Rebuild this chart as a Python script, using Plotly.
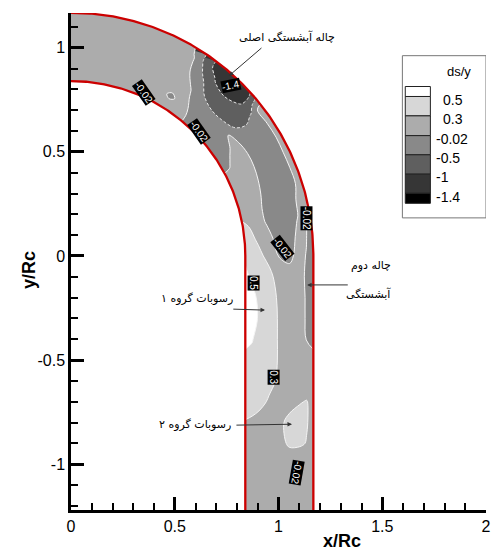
import numpy as np
import plotly.graph_objects as go

# ---- channel geometry (lengths scaled by Rc) ----
R_IN = 0.840
R_OUT = 1.168
Y_END = -1.3

# ---- stations: bend angles (deg), straight-reach y/Rc, and relative position across ----
bend_angle = [90, 80, 70, 62, 58, 54, 50, 46, 42, 38, 34, 30, 26, 22, 18, 14, 10, 5, 0]
straight_y = [-0.1, -0.2, -0.3, -0.4, -0.5, -0.6, -0.7, -0.8, -0.9, -1.0, -1.1, -1.2, -1.3]
n_frac = [0.0, 0.1, 0.2, 0.35, 0.5, 0.65, 0.8, 0.9, 1.0]   # inner bank -> outer bank

# ---- bed change ds/y at the stations ----
dsy_bend = [
    [0.12, 0.10, 0.10, 0.09, 0.10, 0.11, 0.10, 0.10, 0.12],
    [0.11, 0.10, 0.09, 0.10, 0.10, 0.10, 0.11, 0.10, 0.10],
    [0.10, 0.09, 0.10, 0.10, 0.09, 0.10, 0.10, 0.11, 0.10],
    [0.09, 0.10, 0.08, 0.10, 0.10, 0.09, 0.08, 0.07, 0.05],
    [0.08, 0.05, -0.10, 0.07, 0.06, 0.05, 0.00, -0.04, -0.06],
    [0.08, 0.08, 0.07, 0.02, -0.06, -0.35, -0.65, -0.90, -0.94],
    [-0.04, -0.05, -0.10, -0.28, -0.52, -0.80, -1.10, -1.25, -1.20],
    [-0.18, -0.20, -0.25, -0.42, -0.62, -0.92, -1.22, -1.38, -1.30],
    [-0.18, -0.20, -0.24, -0.42, -0.60, -0.80, -1.05, -1.10, -0.98],
    [-0.20, -0.22, -0.20, -0.04, -0.52, -0.60, -0.48, -0.05, 0.10],
    [-0.12, -0.15, -0.10, 0.06, -0.20, -0.30, -0.25, -0.05, 0.10],
    [-0.07, -0.08, 0.05, 0.10, -0.15, -0.30, -0.25, -0.06, 0.10],
    [0.02, 0.08, 0.10, 0.08, -0.15, -0.30, -0.20, -0.03, 0.08],
    [0.10, 0.12, 0.12, 0.05, -0.20, -0.30, -0.25, -0.03, 0.10],
    [0.10, 0.12, 0.12, 0.00, -0.20, -0.30, -0.20, -0.03, 0.10],
    [0.20, 0.15, 0.12, -0.05, -0.22, -0.28, -0.10, 0.05, 0.00],
    [0.33, 0.27, 0.12, -0.05, -0.25, -0.25, -0.05, 0.05, -0.10],
    [0.42, 0.35, 0.25, 0.05, -0.15, -0.20, 0.05, 0.00, -0.20],
    [0.48, 0.42, 0.35, 0.20, -0.05, -0.08, 0.05, -0.04, -0.20],
]
dsy_straight = [
    [0.56, 0.48, 0.44, 0.36, 0.15, 0.05, 0.02, -0.05, -0.25],
    [0.62, 0.58, 0.48, 0.38, 0.25, 0.10, 0.05, -0.05, -0.25],
    [0.63, 0.60, 0.49, 0.38, 0.27, 0.10, 0.05, -0.05, -0.25],
    [0.57, 0.52, 0.45, 0.38, 0.27, 0.10, 0.05, -0.03, -0.12],
    [0.47, 0.46, 0.44, 0.38, 0.27, 0.12, 0.10, 0.08, 0.05],
    [0.42, 0.42, 0.40, 0.34, 0.26, 0.12, 0.10, 0.10, 0.08],
    [0.38, 0.37, 0.35, 0.27, 0.20, 0.18, 0.28, 0.31, 0.20],
    [0.28, 0.25, 0.20, 0.15, 0.22, 0.36, 0.38, 0.32, 0.15],
    [0.12, 0.12, 0.12, 0.12, 0.20, 0.33, 0.34, 0.28, 0.12],
    [0.10, 0.10, 0.10, 0.10, 0.10, 0.10, -0.05, 0.10, 0.10],
    [0.10, 0.11, 0.10, 0.10, 0.09, 0.10, 0.10, 0.10, 0.10],
    [0.10, 0.10, 0.10, 0.11, 0.10, 0.10, 0.09, 0.10, 0.10],
    [0.10, 0.10, 0.10, 0.10, 0.10, 0.10, 0.10, 0.10, 0.10],
]

# ---- contour levels and grey shades (lowest band first) ----
levels = [-1.4, -1.0, -0.5, -0.02, 0.3, 0.5]
level_labels = ['-1.4', '-1', '-0.5', '-0.02', '0.3', '0.5']
band_colors = ['#000000', '#363636', '#5f5f5f', '#898989', '#acacac', '#d7d7d7', '#ffffff']

# ---- labels written on the contour map: text, x/Rc, y/Rc, angle ----
contour_tags = [
    ('-0.02', 0.350, 0.784, 55),
    ('-0.02', 0.616, 0.596, 55),
    ('-1.4', 0.771, 0.817, -12),
    ('-0.02', 1.133, 0.183, 90),
    ('-0.02', 1.017, 0.040, 52),
    ('0.5', 0.882, -0.130, 90),
    ('0.3', 0.978, -0.582, 90),
    ('-0.02', 1.089, -1.043, 100),
]

# ---------------------------------------------------------------------------
# curvilinear grid of the channel
n_arr = np.array(n_frac)
r_arr = R_IN + n_arr * (R_OUT - R_IN)
xs_rows, ys_rows, s_station = [], [], []
for th in bend_angle:
    t = np.radians(th)
    xs_rows.append(r_arr * np.cos(t))
    ys_rows.append(r_arr * np.sin(t))
    s_station.append(np.radians(90 - th))
for yv in straight_y:
    xs_rows.append(r_arr.copy())
    ys_rows.append(np.full_like(r_arr, yv))
    s_station.append(np.pi / 2 - yv)

X = np.array(xs_rows).T
Y = np.array(ys_rows).T
Z = np.array(dsy_bend + dsy_straight).T

# map ds/y onto an evenly spaced level index so the uneven levels become unit steps
Z_idx = np.interp(Z, [-2.0] + levels + [1.0], np.arange(len(levels) + 2))

nb = len(band_colors)
colorscale = []
for i, c in enumerate(band_colors):
    colorscale.append([i / nb, c])
    colorscale.append([(i + 1) / nb, c])

hidden_axis = dict(showgrid=False, showline=False, showticklabels='none',
                   startline=False, endline=False, minorgridcount=0,
                   gridcolor='rgba(0,0,0,0)')

fig = go.Figure()
fig.add_trace(go.Carpet(a=s_station, b=n_frac, x=X, y=Y, carpet='chan',
                        aaxis=hidden_axis, baxis=hidden_axis))
fig.add_trace(go.Contourcarpet(
    carpet='chan', a=s_station, b=n_frac, z=Z_idx,
    autocontour=False, contours=dict(start=1, end=len(levels), size=1, coloring='fill'),
    colorscale=colorscale, zmin=0, zmax=nb, showscale=False,
    line=dict(width=0)))
# solid contour lines for the upper levels
fig.add_trace(go.Contourcarpet(
    carpet='chan', a=s_station, b=n_frac, z=Z_idx,
    autocontour=False, contours=dict(start=4, end=6, size=1, coloring='none'),
    showscale=False, line=dict(color='#f4f4f4', width=1)))
# dashed contour lines inside the scour hole
fig.add_trace(go.Contourcarpet(
    carpet='chan', a=s_station, b=n_frac, z=Z_idx,
    autocontour=False, contours=dict(start=1, end=3, size=1, coloring='none'),
    showscale=False, line=dict(color='#e6e6e6', width=1, dash='3px,2px')))

# channel walls
th_w = np.radians(np.linspace(90, 0, 181))
for R in (R_IN, R_OUT):
    fig.add_trace(go.Scatter(
        x=np.concatenate([R * np.cos(th_w), [R]]),
        y=np.concatenate([R * np.sin(th_w), [Y_END]]),
        mode='lines', line=dict(color='#cc0000', width=2.3),
        hoverinfo='skip', showlegend=False))

annotations = []
for txt, xa, ya, ang in contour_tags:
    annotations.append(dict(x=xa, y=ya, xref='x', yref='y', text=txt, showarrow=False,
                            textangle=ang, bgcolor='black', borderpad=0,
                            font=dict(family='Arial', size=10, color='white')))

persian_font = dict(family='DejaVu Sans', size=11, color='black')
notes = [
    ('چاله آبشستگی اصلی', 1.040, 1.053),
    ('چاله دوم', 1.447, -0.048),
    ('آبشستگی', 1.432, -0.183),
    ('رسوبات گروه ۱', 0.606, -0.202),
    ('رسوبات گروه ۲', 0.597, -0.808),
]
for txt, xa, ya in notes:
    annotations.append(dict(x=xa, y=ya, xref='x', yref='y', text=txt,
                            showarrow=False, font=persian_font))

# arrows: head (x, y) and tail (ax, ay)
arrows = [
    (0.761, 0.865, 0.925, 1.005),
    (1.138, -0.139, 1.341, -0.139),
    (0.935, -0.260, 0.775, -0.255),
    (1.065, -0.808, 0.790, -0.8125),
]
for hx, hy, tx, ty in arrows:
    annotations.append(dict(x=hx, y=hy, ax=tx, ay=ty, xref='x', yref='y',
                            axref='x', ayref='y', text='', showarrow=True,
                            arrowhead=2, arrowsize=0.9, arrowwidth=1,
                            arrowcolor='#333333'))

# ---- legend box drawn in data units ----
shapes = [dict(type='rect', x0=1.597, x1=2.0, y0=0.183, y1=0.962,
               line=dict(color='#777777', width=1), fillcolor='white', layer='above')]
row_edges = [0.814, 0.766, 0.673, 0.578, 0.486, 0.393, 0.301, 0.253]
legend_colors = band_colors[::-1]
for i, c in enumerate(legend_colors):
    shapes.append(dict(type='rect', x0=1.611, x1=1.732, y0=row_edges[i + 1], y1=row_edges[i],
                       line=dict(color='#222222', width=1), fillcolor=c, layer='above'))
for i, lab in enumerate(level_labels[::-1]):
    neg = lab.startswith('-')
    annotations.append(dict(x=1.751 if neg else 1.785, y=row_edges[i + 1] - 0.016,
                            xref='x', yref='y', text=lab, showarrow=False, xanchor='left',
                            font=dict(family='Arial', size=14, color='black')))
annotations.append(dict(x=1.872, y=0.885, xref='x', yref='y', text='ds/y', showarrow=False,
                        font=dict(family='Arial', size=13, color='black')))

# axis titles
annotations.append(dict(x=(342 - 71) / 415, y=-0.062, xref='paper', yref='paper',
                        text='<b>x/Rc</b>', showarrow=False, yanchor='middle',
                        font=dict(family='Arial', size=18, color='black')))
annotations.append(dict(x=-0.13, y=(510 - 270) / 497, xref='paper', yref='paper',
                        text='<b>y/Rc</b>', showarrow=False, textangle=-90,
                        font=dict(family='Arial', size=18, color='black')))

axis_common = dict(ticks='inside', ticklen=13, tickwidth=2.5, tickcolor='black',
                   showline=True, linecolor='black', linewidth=2.5,
                   showgrid=False, zeroline=False, automargin=False,
                   tickfont=dict(family='Arial', size=16, color='black'),
                   minor=dict(ticks='inside', ticklen=7, tickwidth=1.5, tickcolor='black',
                              tickmode='linear', tick0=0, dtick=0.1, showgrid=False))

x_ticks = [0, 0.5, 1, 1.5, 2]
y_ticks = [-1, -0.5, 0, 0.5, 1]

fig.update_layout(
    width=495, height=553,
    margin=dict(l=71, r=9, t=13, b=43),
    paper_bgcolor='white', plot_bgcolor='white',
    showlegend=False,
    xaxis=dict(range=[0, 2], tickmode='array', tickvals=x_ticks,
               ticktext=[f'{v:g}' for v in x_ticks], **axis_common),
    yaxis=dict(range=[-1.22, 1.167], tickmode='array', tickvals=y_ticks,
               ticktext=[f'{v:g}' for v in y_ticks], **axis_common),
    shapes=shapes,
    annotations=annotations,
)

fig.write_html('out.html')
